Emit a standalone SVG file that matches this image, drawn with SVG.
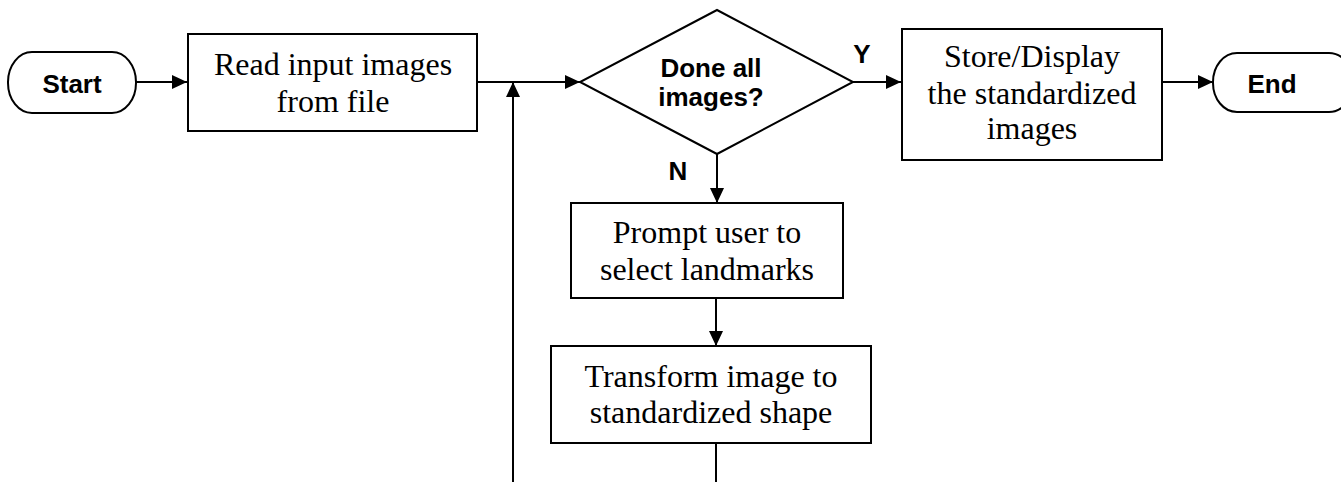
<svg xmlns="http://www.w3.org/2000/svg" width="1341" height="482" viewBox="0 0 1341 482">
<defs>
<marker id="ah" viewBox="0 0 15 14" refX="15" refY="7" markerWidth="15" markerHeight="14" markerUnits="userSpaceOnUse" orient="auto">
<path d="M0,0 L15,7 L0,14 Z" fill="#000"/>
</marker>
<style>
.shape{fill:#fff;stroke:#000;stroke-width:2}
.conn{fill:none;stroke:#000;stroke-width:2}
.t{font-family:"Liberation Serif","Times New Roman",serif;font-size:32px;text-anchor:middle;fill:#000}
.b{font-family:"Liberation Sans",Arial,sans-serif;font-size:26px;font-weight:bold;text-anchor:middle;fill:#000}
</style>
</defs>
<rect width="1341" height="482" fill="#fff"/>
<g id="connectors">
<line class="conn" x1="136" y1="82" x2="187" y2="82" marker-end="url(#ah)"/>
<line class="conn" x1="477" y1="82" x2="580" y2="82" marker-end="url(#ah)"/>
<line class="conn" x1="513" y1="482" x2="513" y2="82" marker-end="url(#ah)"/>
<line class="conn" x1="853" y1="82" x2="901" y2="82" marker-end="url(#ah)"/>
<line class="conn" x1="1162" y1="82" x2="1213" y2="82" marker-end="url(#ah)"/>
<line class="conn" x1="717" y1="154" x2="717" y2="203" marker-end="url(#ah)"/>
<line class="conn" x1="716" y1="298" x2="716" y2="346" marker-end="url(#ah)"/>
<line class="conn" x1="716" y1="443" x2="716" y2="482"/>
<text class="b" x="862" y="63">Y</text>
<text class="b" x="678" y="180">N</text>
</g>
<g id="start">
<rect class="shape" x="8" y="52" width="128" height="61" rx="24" ry="30"/>
<text class="b" x="72" y="93">Start</text>
</g>
<g id="read">
<rect class="shape" x="188" y="34" width="289" height="97"/>
<text class="t" x="333" y="75">Read input images</text>
<text class="t" x="333" y="112">from file</text>
</g>
<g id="decision">
<polygon class="shape" points="717,10 853,82 717,154 580,82"/>
<text class="b" x="711" y="77">Done all</text>
<text class="b" x="711" y="106">images?</text>
</g>
<g id="store">
<rect class="shape" x="902" y="29" width="260" height="131"/>
<text class="t" x="1032" y="67">Store/Display</text>
<text class="t" x="1032" y="104">the standardized</text>
<text class="t" x="1032" y="139">images</text>
</g>
<g id="end">
<rect class="shape" x="1213" y="53" width="140" height="59" rx="24" ry="29"/>
<text class="b" x="1272" y="93">End</text>
</g>
<g id="prompt">
<rect class="shape" x="571" y="203" width="272" height="95"/>
<text class="t" x="707" y="243">Prompt user to</text>
<text class="t" x="707" y="280">select landmarks</text>
</g>
<g id="transform">
<rect class="shape" x="551" y="346" width="320" height="97"/>
<text class="t" x="711" y="387">Transform image to</text>
<text class="t" x="711" y="423">standardized shape</text>
</g>
</svg>
